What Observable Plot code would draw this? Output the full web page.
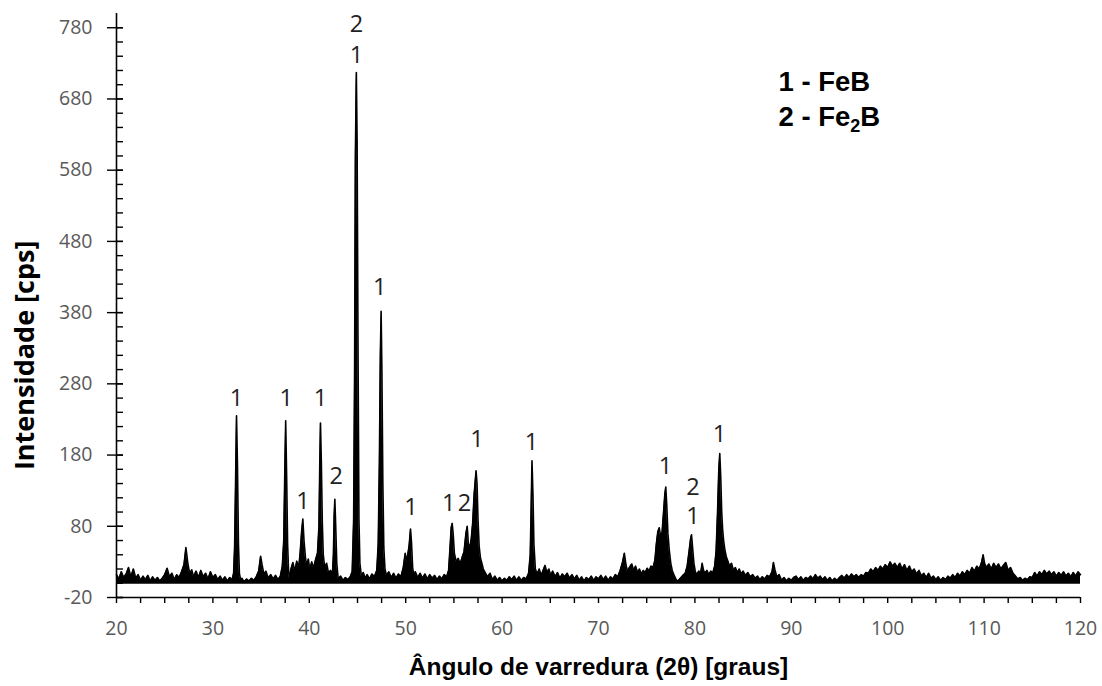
<!DOCTYPE html>
<html><head><meta charset="utf-8">
<script src="https://cdn.jsdelivr.net/npm/d3@7"></script>
<script src="https://cdn.jsdelivr.net/npm/@observablehq/plot@0.6"></script>
<style>body{margin:0;background:#fff}#chart svg{display:block}</style>
</head><body><div id="chart"></div>
<script>
// [angle 2θ, intensity cps]
const scan20to33 = [[20.00,12],[20.25,6],[20.50,16],[20.75,8],[21.00,13],[21.25,22],[21.50,9],[21.75,20],[22.00,7],[22.25,12],[22.50,4],[22.75,10],[23.00,5],[23.25,11],[23.50,3],[23.75,9],[24.00,4],[24.25,8],[24.50,3],[24.75,7],[25.00,12],[25.25,21],[25.50,9],[25.75,14],[26.00,5],[26.25,12],[26.50,8],[26.75,16],[27.00,26],[27.20,50],[27.40,28],[27.60,13],[27.80,19],[28.00,9],[28.25,17],[28.50,8],[28.75,18],[29.00,9],[29.25,14],[29.50,6],[29.75,16],[30.00,8],[30.25,12],[30.50,5],[30.75,10],[31.00,4],[31.25,9],[31.50,3],[31.75,8],[32.00,5],[32.15,14],[32.25,50],[32.35,140],[32.45,235],[32.55,165],[32.65,55],[32.75,14],[32.90,3]];
const scan33to44 = [[33.00,7],[33.25,2],[33.50,6],[33.75,3],[34.00,7],[34.25,4],[34.50,9],[34.75,17],[34.95,38],[35.10,26],[35.30,12],[35.50,17],[35.75,7],[36.00,12],[36.25,6],[36.50,11],[36.75,5],[37.00,10],[37.20,24],[37.35,60],[37.45,150],[37.55,228],[37.65,150],[37.75,55],[37.85,18],[37.95,6],[38.10,20],[38.30,29],[38.50,17],[38.70,31],[38.90,22],[39.05,42],[39.20,72],[39.33,90],[39.45,60],[39.60,36],[39.75,24],[39.90,34],[40.05,19],[40.25,30],[40.45,21],[40.65,33],[40.85,42],[41.00,80],[41.08,160],[41.16,225],[41.25,170],[41.35,85],[41.45,40],[41.60,22],[41.80,28],[42.00,14],[42.20,18],[42.40,12],[42.50,40],[42.58,95],[42.65,118],[42.73,85],[42.85,28],[43.00,6],[43.25,10],[43.50,4],[43.75,8],[44.00,5],[44.25,9],[44.45,16]];
const scan44to60 = [[44.60,90],[44.70,300],[44.78,600],[44.88,717],[44.96,620],[45.05,340],[45.15,90],[45.25,28],[45.40,10],[45.60,15],[45.80,7],[46.00,12],[46.25,6],[46.50,13],[46.75,9],[47.00,18],[47.15,55],[47.27,170],[47.37,320],[47.45,382],[47.53,300],[47.63,140],[47.73,50],[47.85,20],[48.00,11],[48.25,16],[48.50,8],[48.75,14],[49.00,7],[49.25,13],[49.50,9],[49.75,22],[49.95,42],[50.10,30],[50.35,52],[50.50,76],[50.60,58],[50.72,22],[50.85,11],[51.00,16],[51.25,8],[51.50,14],[51.75,7],[52.00,13],[52.25,6],[52.50,12],[52.75,7],[53.00,11],[53.25,5],[53.50,10],[53.75,6],[54.00,12],[54.25,9],[54.45,18],[54.60,50],[54.72,78],[54.82,84],[54.92,70],[55.05,42],[55.25,30],[55.45,35],[55.65,27],[55.85,36],[56.05,44],[56.25,70],[56.38,80],[56.50,55],[56.65,50],[56.80,62],[56.95,85],[57.10,125],[57.30,158],[57.40,140],[57.50,90],[57.62,52],[57.75,36],[57.90,28],[58.05,20],[58.25,15],[58.50,9],[58.75,14],[59.00,5],[59.25,10],[59.50,4],[59.75,8]];
const scan60to90 = [[60.00,3],[60.25,7],[60.50,4],[60.75,9],[61.00,5],[61.25,10],[61.50,4],[61.75,9],[62.00,4],[62.25,8],[62.50,6],[62.75,14],[62.92,40],[63.02,110],[63.10,172],[63.20,125],[63.30,55],[63.45,20],[63.65,13],[63.85,20],[64.05,11],[64.25,18],[64.45,25],[64.65,15],[64.85,20],[65.05,11],[65.25,17],[65.50,9],[65.75,15],[66.00,7],[66.25,13],[66.50,9],[66.75,14],[67.00,7],[67.25,12],[67.50,6],[67.75,11],[68.00,4],[68.25,9],[68.50,3],[68.75,8],[69.00,5],[69.25,10],[69.50,4],[69.75,9],[70.00,6],[70.25,11],[70.50,5],[70.75,10],[71.00,4],[71.25,9],[71.50,6],[71.75,12],[72.00,9],[72.25,18],[72.50,30],[72.68,42],[72.85,26],[73.00,17],[73.20,22],[73.45,27],[73.65,18],[73.85,24],[74.05,15],[74.25,20],[74.45,13],[74.65,18],[74.85,15],[75.05,21],[75.25,17],[75.45,24],[75.65,22],[75.85,32],[76.00,55],[76.15,72],[76.30,78],[76.45,65],[76.60,72],[76.75,100],[76.88,125],[76.98,135],[77.08,110],[77.20,70],[77.35,45],[77.50,28],[77.65,18],[77.85,11],[78.05,5],[78.25,3],[78.50,7],[78.75,11],[79.00,14],[79.20,24],[79.40,45],[79.55,62],[79.65,68],[79.75,52],[79.90,28],[80.05,16],[80.20,12],[80.40,17],[80.60,14],[80.75,28],[80.90,18],[81.05,14],[81.25,18],[81.45,12],[81.65,17],[81.85,14],[82.05,24],[82.20,45],[82.35,100],[82.48,160],[82.58,182],[82.68,150],[82.78,100],[82.88,75],[82.98,60],[83.12,46],[83.28,36],[83.45,30],[83.60,24],[83.80,28],[84.00,18],[84.20,22],[84.40,15],[84.60,20],[84.80,13],[85.00,17],[85.25,11],[85.50,15],[85.75,9],[86.00,12],[86.25,7],[86.50,10],[86.75,5],[87.00,9],[87.25,6],[87.50,11],[87.75,9],[88.00,16],[88.15,29],[88.30,19],[88.50,9],[88.75,12],[89.00,4],[89.25,8],[89.50,3],[89.75,7]];
const scan90to120 = [[90.00,4],[90.25,8],[90.50,10],[90.75,5],[91.00,9],[91.25,4],[91.50,8],[91.75,6],[92.00,10],[92.25,6],[92.50,12],[92.75,7],[93.00,10],[93.25,5],[93.50,9],[93.75,4],[94.00,8],[94.25,3],[94.50,7],[94.75,4],[95.00,8],[95.25,11],[95.50,7],[95.75,12],[96.00,8],[96.25,13],[96.50,9],[96.75,12],[97.00,8],[97.25,12],[97.50,10],[97.75,15],[98.00,14],[98.25,20],[98.50,16],[98.75,22],[99.00,18],[99.25,24],[99.50,20],[99.75,26],[100.00,22],[100.25,30],[100.50,24],[100.75,28],[101.00,22],[101.25,28],[101.50,20],[101.75,26],[102.00,18],[102.25,24],[102.50,16],[102.75,20],[103.00,13],[103.25,18],[103.50,10],[103.75,14],[104.00,8],[104.25,14],[104.50,7],[104.75,10],[105.00,5],[105.25,9],[105.50,4],[105.75,8],[106.00,5],[106.25,10],[106.50,7],[106.75,12],[107.00,8],[107.25,14],[107.50,10],[107.75,16],[108.00,12],[108.25,18],[108.50,14],[108.75,22],[109.00,17],[109.25,24],[109.50,20],[109.75,30],[109.90,40],[110.05,28],[110.25,22],[110.50,27],[110.75,20],[111.00,28],[111.25,22],[111.50,27],[111.75,20],[112.00,25],[112.25,29],[112.50,18],[112.75,22],[113.00,14],[113.25,10],[113.50,6],[113.75,8],[114.00,4],[114.25,7],[114.50,5],[114.75,9],[115.00,8],[115.25,15],[115.50,10],[115.75,16],[116.00,12],[116.25,18],[116.50,13],[116.75,17],[117.00,12],[117.25,16],[117.50,10],[117.75,15],[118.00,11],[118.25,16],[118.50,10],[118.75,14],[119.00,9],[119.25,15],[119.50,10],[119.75,16],[120.00,12]];

const yTickValues = [-20, 80, 180, 280, 380, 480, 580, 680, 780];
const xTickValues = [20, 30, 40, 50, 60, 70, 80, 90, 100, 110, 120];
const yMinorValues = d3.range(-20, 781, 20);
const xMinorValues = d3.range(20, 120.01, 2.5);

// peak phase labels: angle, level (cps), label
const peakAngles = [32.45, 37.6, 41.16, 39.35, 42.8, 44.9, 44.9, 47.3, 50.55, 54.45, 56.1, 57.4, 63.05, 76.95, 79.8, 79.8, 82.55];
const peakLevels = [259, 259, 259, 115, 150, 784, 741, 415, 106, 112, 112, 202, 197, 164, 135, 94, 209];
const peakLabels = ["1", "1", "1", "1", "2", "2", "1", "1", "1", "1", "2", "1", "1", "1", "2", "1", "1"];

const legendLine1 = "1 - FeB";
const legendLine2 = "2 - Fe2B";
const xTitle = "Ângulo de varredura (2θ) [graus]";
const yTitle = "Intensidade [cps]";

const scan = [...scan20to33, ...scan33to44, ...scan44to60, ...scan60to90, ...scan90to120]
  .map(([angle, cps]) => ({angle, cps}));
const peaks = peakAngles.map((a, i) => ({angle: a, level: peakLevels[i], label: peakLabels[i]}));

const W = 1102, H = 686, ML = 116, MR = 22, MT = 13, MB = 89;
const FW = W - ML - MR, FH = H - MT - MB;
const tickFont = "'Open Sans', 'Noto Sans', sans-serif";
const boldFont = "'Liberation Sans', Arial, sans-serif";

const chart = Plot.plot({
  width: W, height: H,
  marginLeft: ML, marginRight: MR, marginTop: MT, marginBottom: MB,
  x: {domain: [20, 120], axis: null},
  y: {domain: [-20, 800], axis: null},
  style: {background: "#fff", overflow: "visible"},
  marks: [
    Plot.areaY(scan, {x: "angle", y1: -1.5, y2: "cps", fill: "#000", curve: "linear"}),
    Plot.line(scan, {x: "angle", y: "cps", stroke: "#000", strokeWidth: 1.6}),
    // axes lines
    Plot.ruleX([20], {y1: -20, y2: 800, stroke: "#000", strokeWidth: 1.6}),
    Plot.ruleY([-20], {x1: 20, x2: 120, stroke: "#000", strokeWidth: 1.6}),
    // y ticks
    Plot.tickY(yMinorValues, {y: d => d, insetRight: FW - 7, stroke: "#000", strokeWidth: 1.4}),
    Plot.tickY(yTickValues, {y: d => d, insetLeft: -9, insetRight: FW - 7, stroke: "#000", strokeWidth: 1.4}),
    // x ticks
    Plot.tickX(xMinorValues, {x: d => d, insetTop: FH, insetBottom: -6, stroke: "#000", strokeWidth: 1.4}),
    // tick labels
    Plot.text(yTickValues, {frameAnchor: "left", y: d => d, text: d => String(d), textAnchor: "end", dx: -24,
      fontSize: 19.5, fill: "#595959", fontFamily: tickFont}),
    Plot.text(xTickValues, {x: d => d, frameAnchor: "bottom", text: d => String(d), dy: 31, lineAnchor: "middle",
      fontSize: 19.5, fill: "#595959", fontFamily: tickFont}),
    // peak labels
    Plot.text(peaks, {x: "angle", y: "level", text: "label", lineAnchor: "middle",
      fontSize: 23.5, fill: "#222", fontFamily: tickFont}),
    // legend
    Plot.text([legendLine1], {frameAnchor: "top-left", dx: 662, dy: 69, textAnchor: "start", lineAnchor: "middle",
      fontSize: 27.5, fontWeight: "bold", fill: "#000", fontFamily: boldFont}),
    Plot.text([legendLine2], {frameAnchor: "top-left", dx: 662, dy: 104, textAnchor: "start", lineAnchor: "middle",
      fontSize: 27.5, fontWeight: "bold", fill: "#000", fontFamily: boldFont}),
    // titles
    Plot.text([xTitle], {frameAnchor: "bottom", dy: 70, lineAnchor: "middle",
      fontSize: 24.5, fontWeight: "bold", fill: "#000", fontFamily: boldFont}),
    Plot.text([yTitle], {frameAnchor: "left", y: [320], dx: -91, rotate: -90, textAnchor: "middle", lineAnchor: "middle",
      fontSize: 27, fontWeight: "bold", fill: "#000", fontFamily: tickFont})
  ]
});

// subscript in Fe2B
d3.select(chart).selectAll("text").each(function() {
  if (this.textContent === legendLine2) {
    const t = d3.select(this);
    t.text(null);
    t.append("tspan").text("2 - Fe");
    t.append("tspan").attr("font-size", "18").attr("dy", "6").text("2");
    t.append("tspan").attr("dy", "-6").text("B");
  }
});

document.getElementById("chart").appendChild(chart);
</script>
</body></html>
